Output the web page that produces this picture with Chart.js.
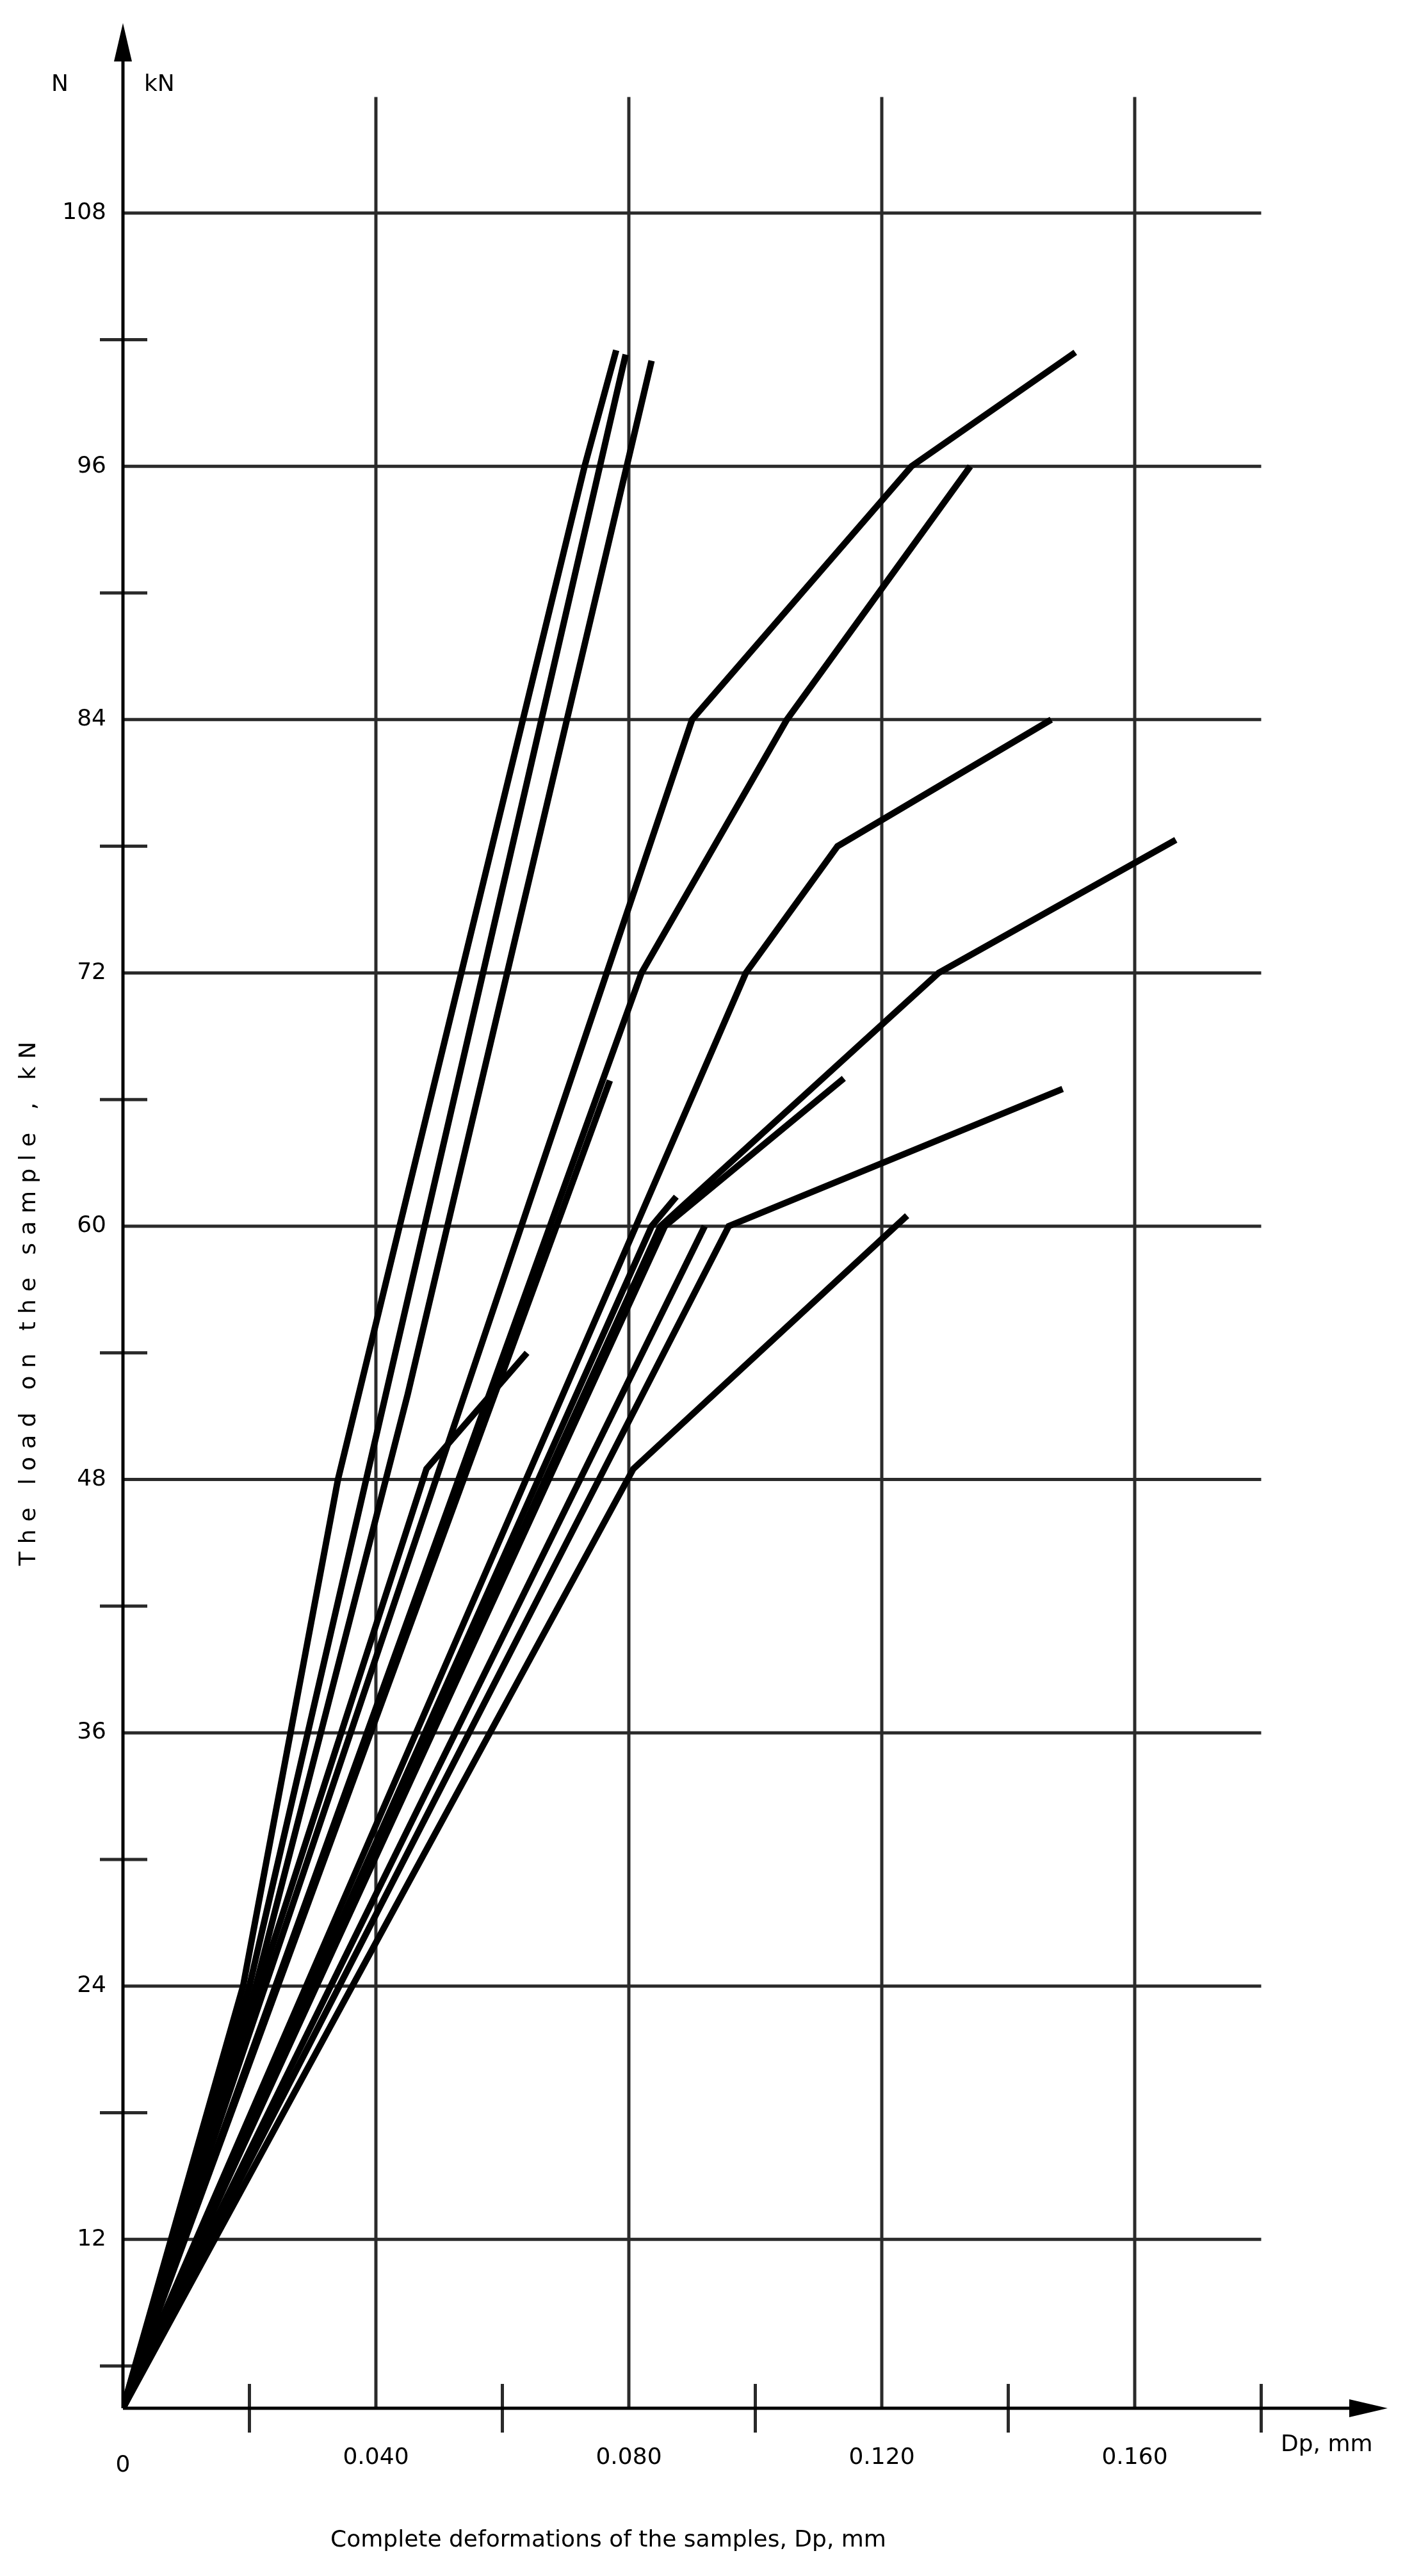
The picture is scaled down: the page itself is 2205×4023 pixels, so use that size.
<!DOCTYPE html>
<html>
<head>
<meta charset="utf-8">
<script src="https://cdn.jsdelivr.net/npm/chart.js@4"></script>
<style>
  body { margin: 0; background: #fff; }
  canvas { display: block; }
</style>
</head>
<body>
<canvas id="chart" width="2205" height="4023"></canvas>
<script>
// curves: deformation Dp (mm) vs load (kN)
const curveA = [[0, 4], [0.019, 24], [0.034, 48], [0.073, 96], [0.078, 101.5]];
const curveB = [[0, 4], [0.020, 24], [0.040, 50], [0.0795, 101.3]];
const curveC = [[0, 4], [0.021, 24], [0.045, 52], [0.0836, 101]];
const curveD = [[0, 4], [0.090, 84], [0.1247, 96], [0.1506, 101.4]];
const curveE = [[0, 4], [0.082, 72], [0.105, 84], [0.134, 96]];
const curveF = [[0, 4], [0.0985, 72], [0.113, 78], [0.1468, 84]];
const curveG = [[0, 4], [0.085, 60], [0.129, 72], [0.1665, 78.3]];
const curveH = [[0, 4], [0.0857, 60], [0.114, 67]];
const curveI = [[0, 4], [0.0958, 60], [0.1486, 66.5]];
const curveJ = [[0, 4], [0.0807, 48.5], [0.124, 60.5]];
const curveK = [[0, 4], [0.077, 66.9]];
const curveL = [[0, 4], [0.048, 48.5], [0.0639, 54]];
const curveM = [[0, 4], [0.092, 60]];
const curveN = [[0, 4], [0.0836, 60], [0.0875, 61.4]];
const curves = [curveA, curveB, curveC, curveD, curveE, curveF, curveG,
                curveH, curveI, curveJ, curveK, curveL, curveM, curveN];

const yMajor = [12, 24, 36, 48, 60, 72, 84, 96, 108];
const yMinor = [6, 18, 30, 42, 54, 66, 78, 90, 102];
const xMajor = [0.040, 0.080, 0.120, 0.160];
const xMinor = [0.020, 0.060, 0.100, 0.140, 0.180];
const xLabels = ["0.040", "0.080", "0.120", "0.160"];

const FONT = "DejaVu Sans";

const drawFrame = {
  id: "drawFrame",
  beforeDatasetsDraw(chart) {
    const { ctx, scales: { x, y } } = chart;
    const x0 = x.getPixelForValue(0), y0 = y.getPixelForValue(4);
    const xEnd = x.getPixelForValue(0.18);
    ctx.save();
    ctx.strokeStyle = "#2a2a2a";
    ctx.lineWidth = 5;
    // horizontal grid
    yMajor.forEach(v => {
      const py = y.getPixelForValue(v);
      ctx.beginPath(); ctx.moveTo(x0, py); ctx.lineTo(xEnd, py); ctx.stroke();
    });
    // vertical grid
    const gTop = y.getPixelForValue(113.5);
    xMajor.forEach(v => {
      const px = x.getPixelForValue(v);
      ctx.beginPath(); ctx.moveTo(px, gTop); ctx.lineTo(px, y0); ctx.stroke();
    });
    // minor ticks
    yMinor.forEach(v => {
      const py = y.getPixelForValue(v);
      ctx.beginPath(); ctx.moveTo(x0 - 36, py); ctx.lineTo(x0 + 38, py); ctx.stroke();
    });
    xMinor.forEach(v => {
      const px = x.getPixelForValue(v);
      ctx.beginPath(); ctx.moveTo(px, y0 - 38); ctx.lineTo(px, y0 + 38); ctx.stroke();
    });
    // axes with arrows
    ctx.strokeStyle = "#000";
    ctx.fillStyle = "#000";
    const yTop = y.getPixelForValue(117);
    const xRight = x.getPixelForValue(0.2);
    ctx.beginPath(); ctx.moveTo(x0, y0); ctx.lineTo(x0, yTop + 40); ctx.stroke();
    ctx.beginPath(); ctx.moveTo(x0, y0); ctx.lineTo(xRight - 50, y0); ctx.stroke();
    ctx.beginPath(); ctx.moveTo(x0, yTop); ctx.lineTo(x0 - 14, yTop + 60); ctx.lineTo(x0 + 14, yTop + 60); ctx.closePath(); ctx.fill();
    ctx.beginPath(); ctx.moveTo(xRight, y0); ctx.lineTo(xRight - 60, y0 - 14); ctx.lineTo(xRight - 60, y0 + 14); ctx.closePath(); ctx.fill();

    // labels
    ctx.font = "36px '" + FONT + "'";
    ctx.textAlign = "right"; ctx.textBaseline = "middle";
    yMajor.forEach(v => ctx.fillText(String(v), x0 - 26, y.getPixelForValue(v)));
    ctx.textAlign = "center"; ctx.textBaseline = "top";
    xMajor.forEach((v, i) => ctx.fillText(xLabels[i], x.getPixelForValue(v), y0 + 60));
    ctx.fillText("0", x0, y0 + 72);
    ctx.textAlign = "left";
    ctx.fillText("Dp, mm", 2000, y0 + 40);
    ctx.textBaseline = "middle";
    ctx.fillText("N", 80, 133);
    ctx.fillText("kN", 225, 133);
    ctx.textAlign = "center";
    ctx.fillText("Complete deformations of the samples, Dp, mm", 950, 3968);
    ctx.save();
    ctx.translate(46, 2030);
    ctx.rotate(-Math.PI / 2);
    ctx.letterSpacing = "12px";
    ctx.fillText("The load on the sample , kN", 0, 0);
    ctx.restore();
    ctx.restore();
  }
};

new Chart(document.getElementById("chart").getContext("2d"), {
  type: "line",
  data: {
    datasets: curves.map(c => ({
      data: c.map(p => ({ x: p[0], y: p[1] })),
      borderColor: "#000",
      borderWidth: 10,
      pointRadius: 0,
      tension: 0,
      fill: false
    }))
  },
  options: {
    responsive: false,
    animation: false,
    devicePixelRatio: 1,
    layout: { padding: { left: 192, right: 38, top: 36, bottom: 262 } },
    plugins: { legend: { display: false }, tooltip: { enabled: false } },
    scales: {
      x: { type: "linear", min: 0, max: 0.2, display: false },
      y: { type: "linear", min: 4, max: 117, display: false }
    }
  },
  plugins: [drawFrame]
});
</script>
</body>
</html>
